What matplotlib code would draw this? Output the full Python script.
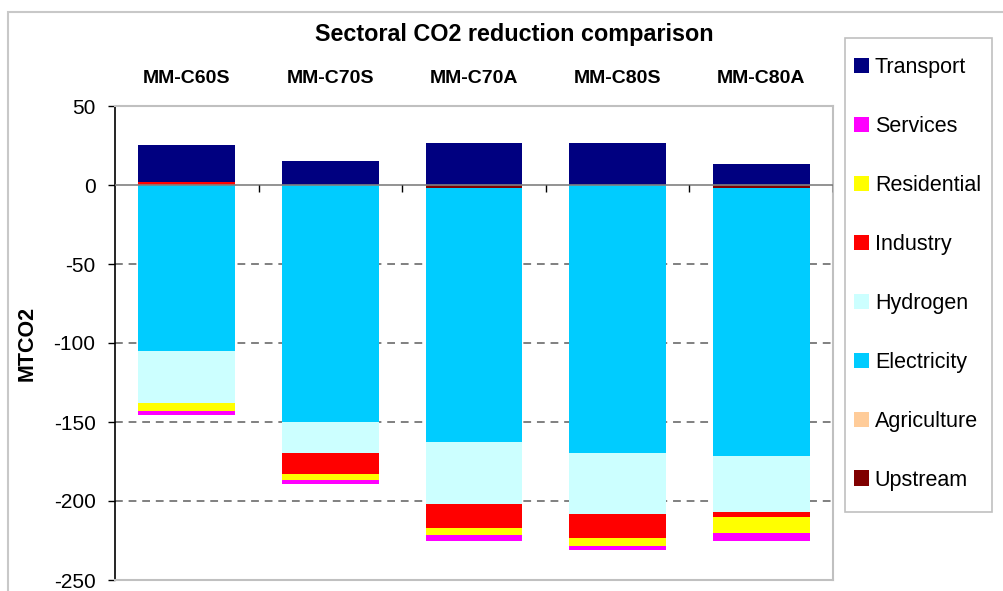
import numpy as np
import matplotlib
matplotlib.use("Agg")
import matplotlib.pyplot as plt
from matplotlib.patches import Rectangle, Patch

plt.rcParams['font.family'] = ['Liberation Sans', 'DejaVu Sans']

# Scenarios and sectoral CO2 changes (MtCO2), listed in stacking order
scenarios = ["MM-C60S", "MM-C70S", "MM-C70A", "MM-C80S", "MM-C80A"]
sectors = ["Upstream", "Agriculture", "Electricity", "Hydrogen",
           "Industry", "Residential", "Services", "Transport"]

upstream    = [0.0,    0.0,    -1.9,   0.0,    -2.1]
agriculture = [0.0,    0.0,     0.0,   0.0,     0.0]
electricity = [-105.0, -150.3, -161.0, -169.8, -169.6]
hydrogen    = [-33.2,  -19.5,  -39.0,  -38.4,  -35.2]
industry    = [1.6,    -13.2,  -15.1,  -15.1,  -3.1]
residential = [-4.6,   -3.8,   -4.4,   -5.0,   -10.1]
services    = [-2.5,   -2.5,   -3.8,   -2.5,   -5.1]
transport   = [23.6,   15.2,   26.4,   26.4,   13.2]

sector_values = [upstream, agriculture, electricity, hydrogen,
                 industry, residential, services, transport]
sector_colors = ["#800000", "#FFCC99", "#00CCFF", "#CCFFFF",
                 "#FF0000", "#FFFF00", "#FF00FF", "#000080"]

yticks = [50, 0, -50, -100, -150, -200, -250]

W, H = 1004, 591
fig = plt.figure(figsize=(W / 100, H / 100), dpi=100)
fig.patch.set_facecolor("white")

# outer chart frame
fig.patches.append(Rectangle((8 / W, -0.05), 1.2, 1 - 12 / H + 0.05,
                             transform=fig.transFigure, fill=False,
                             edgecolor="#c8c8c8", linewidth=1.5, clip_on=False))

ax = fig.add_axes([115 / W, (H - 580) / H, 718 / W, 474 / H])
x = np.arange(len(scenarios))
bar_w = 0.675

pos_base = np.zeros(len(scenarios))
neg_base = np.zeros(len(scenarios))
for name, vals, col in zip(sectors, sector_values, sector_colors):
    vals = np.asarray(vals, dtype=float)
    bottom = np.where(vals >= 0, pos_base, neg_base)
    ax.bar(x, vals, bar_w, bottom=bottom, color=col,
           edgecolor="none", linewidth=0, zorder=2, label=name)
    pos_base = pos_base + np.where(vals >= 0, vals, 0)
    neg_base = neg_base + np.where(vals < 0, vals, 0)

ax.set_xlim(-0.5, len(scenarios) - 0.5)
ax.set_ylim(min(yticks), max(yticks))

# dashed gridlines between the frame and the zero line
grid_levels = [t for t in yticks if min(yticks) < t < max(yticks) and t != 0]
ax.hlines(grid_levels, -0.5, len(scenarios) - 0.5, colors="#808080",
          linewidth=1.4, linestyles=(0, (4, 3)), zorder=1)

# category axis at zero with boundary ticks
ax.axhline(0, color="#808080", linewidth=1.2, zorder=3)
bounds = np.arange(1, len(scenarios) + 1) - 0.5
ax.vlines(bounds, -4.2, 0, colors="black", linewidth=1.0, zorder=3)

# y axis
ax.set_yticks(yticks)
ax.set_yticklabels([str(t) for t in yticks], fontsize=15)
ax.tick_params(axis="y", direction="out", length=5, width=1, color="black", pad=9)

# scenario names across the top
ax.xaxis.set_ticks_position("top")
ax.set_xticks(x)
ax.set_xticklabels(scenarios, fontsize=14, fontweight="bold")
ax.tick_params(axis="x", length=0, pad=13.5)

for side in ["top", "right", "bottom"]:
    ax.spines[side].set_color("#c0c0c0")
    ax.spines[side].set_linewidth(1.5)
ax.spines["left"].set_color("black")
ax.spines["left"].set_linewidth(1.2)

fig.text(514 / W, 1 - 35 / H, "Sectoral CO2 reduction comparison",
         fontsize=16.8, fontweight="bold", ha="center", va="center")
fig.text(27 / W, 1 - 343 / H, "MTCO2", fontsize=15.5, fontweight="bold",
         rotation=90, ha="center", va="center")

# legend box and entries
fig.patches.append(Rectangle((845 / W, 1 - 512 / H), 147 / W, 474 / H,
                             transform=fig.transFigure, fill=False,
                             edgecolor="#c0c0c0", linewidth=1.2))
leg_handles = [Patch(facecolor=c, edgecolor="none") for c in sector_colors][::-1]
leg_labels = sectors[::-1]
fig.legend(leg_handles, leg_labels, loc="upper left",
           bbox_to_anchor=(850 / W, 1 - 53 / H), borderaxespad=0,
           fontsize=15.5, frameon=False, borderpad=0.2,
           handlelength=0.7, handleheight=0.7, handletextpad=0.25,
           labelspacing=1.76)

fig.savefig("out.png", dpi=100, facecolor="white")
